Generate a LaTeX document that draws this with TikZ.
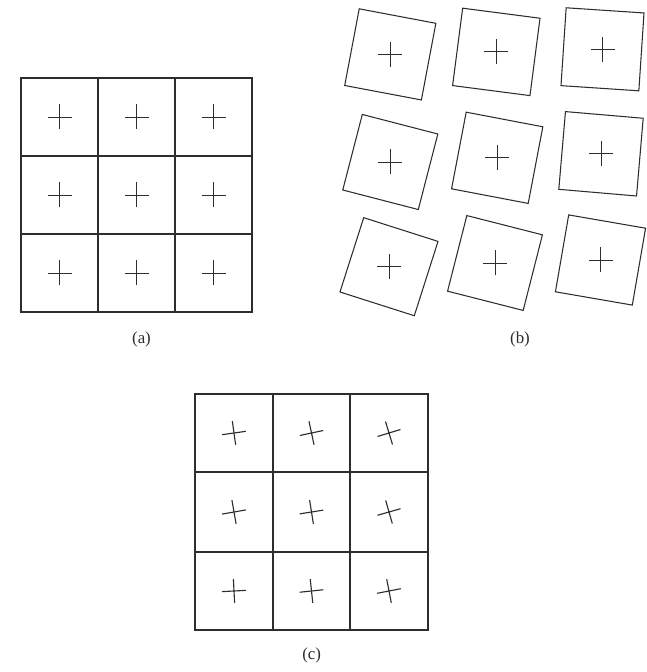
\documentclass[tikz,border=0pt]{standalone}
\usepackage{fontspec}
\setmainfont{Liberation Serif}
\usepackage{tikz}
\definecolor{inkgray}{RGB}{45,45,45}

\begin{document}
\begin{tikzpicture}[
    x=0.025cm, y=0.025cm,
    cell/.style={draw=inkgray, line width=0.75pt, minimum width=1.925cm,
                 minimum height=1.95cm, inner sep=0pt},
    tile/.style={draw=inkgray, line width=0.75pt, minimum size=1.95cm, inner sep=0pt},
    crossline/.style={draw=inkgray, line width=0.7pt},
    caption/.style={font=\fontsize{12}{14}\selectfont, text=inkgray}
]
\useasboundingbox (0,0) rectangle (646,672);

% (a) regular grid
\node[cell] (a11) at (59.5,555) {};
\node[cell] (a12) at (136.5,555) {};
\node[cell] (a13) at (213.5,555) {};
\node[cell] (a21) at (59.5,477) {};
\node[cell] (a22) at (136.5,477) {};
\node[cell] (a23) at (213.5,477) {};
\node[cell] (a31) at (59.5,399) {};
\node[cell] (a32) at (136.5,399) {};
\node[cell] (a33) at (213.5,399) {};
\foreach \n in {a11,a12,a13,a21,a22,a23,a31,a32,a33}
    \draw[crossline, shift={(\n)}] (-12,0) -- (12,0) (0,-12.5) -- (0,12.5);
\node[caption] (capa) at (141.5,333) {(a)};

% (b) separated and rotated tiles
\node[tile, rotate=-10.7] (b11) at (390.3,617.6) {};
\node[tile, rotate=-7.4]  (b12) at (496.3,620.1) {};
\node[tile, rotate=-3.8]  (b13) at (602.5,622.7) {};
\node[tile, rotate=-14.5] (b21) at (390.3,510) {};
\node[tile, rotate=-10.8] (b22) at (497.2,514.2) {};
\node[tile, rotate=-4.9]  (b23) at (601,518.2) {};
\node[tile, rotate=-17.7] (b31) at (389,405.3) {};
\node[tile, rotate=-14.3] (b32) at (495,409) {};
\node[tile, rotate=-9.8]  (b33) at (600.5,412) {};
\foreach \n in {b11,b12,b13,b21,b22,b23,b31,b32,b33}
    \draw[crossline, shift={(\n)}] (-12,0) -- (12,0) (0,-12.5) -- (0,12.5);
\node[caption] (capb) at (520,333) {(b)};

% (c) grid with rotated crosses
\node[cell, minimum width=1.95cm] (c11) at (234,239) {};
\node[cell] (c12) at (311.5,239) {};
\node[cell, minimum width=1.95cm] (c13) at (389,239) {};
\node[cell, minimum width=1.95cm, minimum height=2cm] (c21) at (234,160) {};
\node[cell, minimum height=2cm] (c22) at (311.5,160) {};
\node[cell, minimum width=1.95cm, minimum height=2cm] (c23) at (389,160) {};
\node[cell, minimum width=1.95cm] (c31) at (234,81) {};
\node[cell] (c32) at (311.5,81) {};
\node[cell, minimum width=1.95cm] (c33) at (389,81) {};
\foreach \n/\ang in {c11/8,c12/12,c13/17,c21/10,c22/9,c23/16,c31/3,c32/6,c33/11}
    \draw[crossline, line width=0.8pt, shift={(\n)}, rotate=\ang]
        (-12,0) -- (12,0) (0,-12) -- (0,12);
\node[caption] (capc) at (311.7,17) {(c)};
\end{tikzpicture}
\end{document}
